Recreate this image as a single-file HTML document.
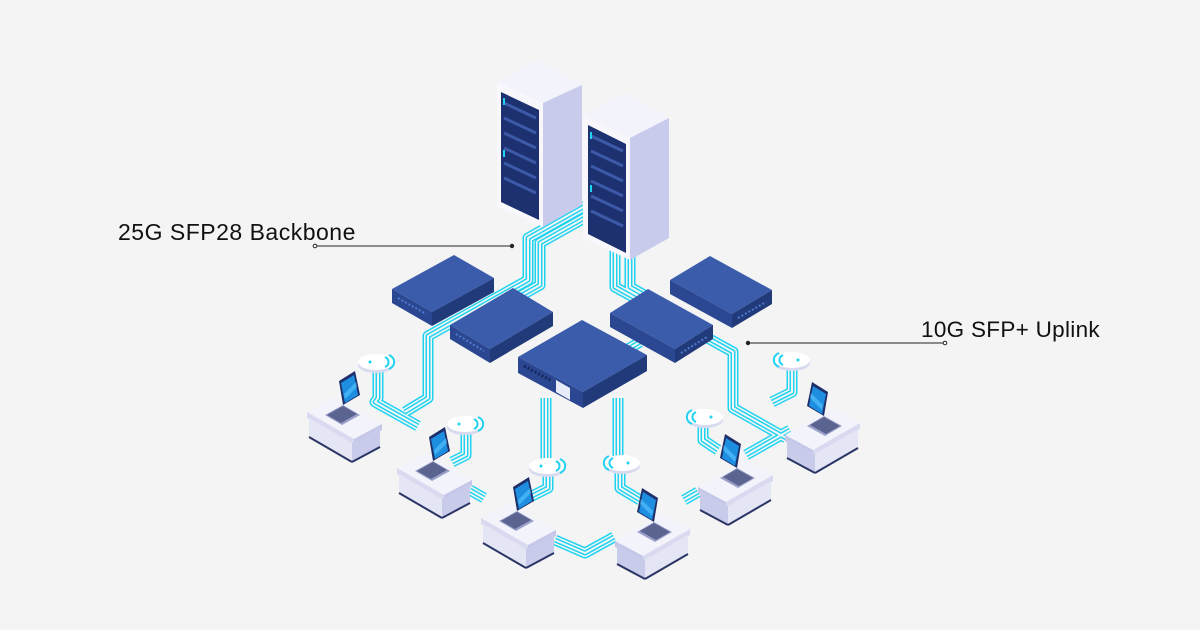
<!DOCTYPE html>
<html><head><meta charset="utf-8"><style>
html,body{margin:0;padding:0;background:#f4f4f4;}
svg{display:block}
</style></head><body>
<svg width="1200" height="630" viewBox="0 0 1200 630" xmlns="http://www.w3.org/2000/svg" font-family="Liberation Sans, sans-serif">
<rect width="1200" height="630" fill="#f4f4f4"/>
<defs>
  <g id="desk">
    <polygon points="0,0 28,-15 75,12 47,27" fill="#f3f3fb"/>
    <polygon points="0,0 47,27 47,33 0,6" fill="#d9daf0"/>
    <polygon points="47,27 75,12 75,18 47,33" fill="#c5c7e8"/>
    <polygon points="2,6 45,31 45,50 2,25" fill="#e4e5f5"/>
    <polygon points="45,31 73,16 73,35 45,50" fill="#c9cbeb"/>
    <line x1="2" y1="25" x2="45" y2="50" stroke="#2a3566" stroke-width="2"/>
    <line x1="45" y1="50" x2="73" y2="35" stroke="#2a3566" stroke-width="2"/>
    <polygon points="18,3 36,-7 53,3 35,13" fill="#9aa0c8"/>
    <polygon points="20,3 36,-6 50,2 34,11" fill="#5b6490"/>
    <polygon points="36,-7 32,-31 48,-41 53,-17" fill="#1e2f6a"/>
    <polygon points="38,-9 34,-29 47,-37 51,-17" fill="#1e8fe0"/>
    <polygon points="37,-18 49,-30 50,-25 38,-13" fill="#5cc6ff" opacity=".6"/>
  </g>
  <g id="ap">
    <ellipse cx="0" cy="3" rx="18" ry="8" fill="#d8daf0"/>
    <ellipse cx="0" cy="0" rx="18" ry="8" fill="#ffffff"/>
    <circle cx="-6" cy="0" r="1.5" fill="#1fd3f0"/>
    <path d="M9,-5 a8,6 0 0 1 0,10" fill="none" stroke="#1fd3f0" stroke-width="2"/>
    <path d="M13,-7 a10,8 0 0 1 0,14" fill="none" stroke="#1fd3f0" stroke-width="2"/>
  </g>
</defs>

<g fill="none" stroke-linejoin="round" stroke-linecap="butt">
  <g id="routes">
    <path d="M585,206 L528,238 L528,280 L428,336 L428,398 L405,412"/>
    <path d="M590,215 L540,243 L540,285 L490,313"/>
    <path d="M615,250 L615,287 L733,352 L733,408 L786,438"/>
    <path d="M630,255 L630,287 L680,315"/>
    <path d="M546,398 L546,462"/>
    <path d="M618,398 L618,460"/>
    <path d="M555,540 L585,553 L614,537"/>
    <path d="M378,372 L378,398 L375,402 L418,426"/>
    <path d="M466,434 L466,455 L452,462"/>
    <path d="M548,474 L548,488 L530,497"/>
    <path d="M620,470 L620,488 L640,500"/>
    <path d="M703,425 L703,440 L718,450"/>
    <path d="M792,368 L792,392 L772,402"/>
    <path d="M470,490 L484,498"/>
    <path d="M684,500 L698,492"/>
    <path d="M746,455 L790,430"/>
    <path d="M640,342 L628,349"/>
  </g>
  <use href="#routes" stroke="#1fd3f0" stroke-width="11"/>
  <use href="#routes" stroke="#f4f4f4" stroke-width="8"/>
  <use href="#routes" stroke="#1fd3f0" stroke-width="5"/>
  <use href="#routes" stroke="#f4f4f4" stroke-width="2"/>
</g>

<g>
  <polygon points="497,82 537,60 582,85 543,103" fill="#f2f3fb"/>
  <polygon points="497,82 543,103 543,227 497,207" fill="#f7f7fc"/>
  <polygon points="543,103 582,85 582,205 543,227" fill="#c8cbec"/>
  <polygon points="501,92 539,110 539,220 501,202" fill="#1d3170"/>
  <g stroke="#3d5aa8" stroke-width="3">
    <line x1="504" y1="103" x2="536" y2="118"/><line x1="504" y1="118" x2="536" y2="133"/>
    <line x1="504" y1="133" x2="536" y2="148"/><line x1="504" y1="148" x2="536" y2="163"/>
    <line x1="504" y1="163" x2="536" y2="178"/><line x1="504" y1="178" x2="536" y2="193"/>
  </g>
  <line x1="504" y1="98" x2="504" y2="105" stroke="#1fd3f0" stroke-width="2"/>
  <line x1="504" y1="150" x2="504" y2="157" stroke="#1fd3f0" stroke-width="2"/>

  <polygon points="583,115 625,93 669,118 630,138" fill="#f2f3fb"/>
  <polygon points="583,115 630,138 630,260 583,238" fill="#f7f7fc"/>
  <polygon points="630,138 669,118 669,238 630,260" fill="#c8cbec"/>
  <polygon points="588,125 626,144 626,253 588,234" fill="#1d3170"/>
  <g stroke="#3d5aa8" stroke-width="3">
    <line x1="591" y1="136" x2="623" y2="151"/><line x1="591" y1="151" x2="623" y2="166"/>
    <line x1="591" y1="166" x2="623" y2="181"/><line x1="591" y1="181" x2="623" y2="196"/>
    <line x1="591" y1="196" x2="623" y2="211"/><line x1="591" y1="211" x2="623" y2="226"/>
  </g>
  <line x1="591" y1="132" x2="591" y2="139" stroke="#1fd3f0" stroke-width="2"/>
  <line x1="591" y1="185" x2="591" y2="192" stroke="#1fd3f0" stroke-width="2"/>
</g>

<g>
  <polygon points="392,289 454,255 494,278 432,312" fill="#3a5cab"/>
  <polygon points="392,289 432,312 432,326 392,303" fill="#2b4792"/>
  <polygon points="432,312 494,278 494,292 432,326" fill="#213a7a"/>
  <line x1="398" y1="298" x2="426" y2="314" stroke="#4f7ad0" stroke-width="2" stroke-dasharray="2 2"/>

  <polygon points="450,325 513,288 553,312 490,349" fill="#3a5cab"/>
  <polygon points="450,325 490,349 490,363 450,339" fill="#2b4792"/>
  <polygon points="490,349 553,312 553,326 490,363" fill="#213a7a"/>
  <line x1="456" y1="334" x2="484" y2="351" stroke="#4f7ad0" stroke-width="2" stroke-dasharray="2 2"/>

  <polygon points="670,280 710,256 772,290 732,314" fill="#3a5cab"/>
  <polygon points="670,280 732,314 732,328 670,294" fill="#2b4792"/>
  <polygon points="732,314 772,290 772,304 732,328" fill="#213a7a"/>
  <line x1="738" y1="318" x2="766" y2="302" stroke="#4f7ad0" stroke-width="2" stroke-dasharray="2 2"/>

  <polygon points="610,313 648,289 713,325 675,349" fill="#3a5cab"/>
  <polygon points="610,313 675,349 675,363 610,327" fill="#2b4792"/>
  <polygon points="675,349 713,325 713,339 675,363" fill="#213a7a"/>
  <line x1="681" y1="353" x2="707" y2="337" stroke="#4f7ad0" stroke-width="2" stroke-dasharray="2 2"/>

  <polygon points="518,357 582,320 647,355 583,392" fill="#3a5cab"/>
  <polygon points="518,357 583,392 583,408 518,373" fill="#2b4792"/>
  <polygon points="583,392 647,355 647,371 583,408" fill="#213a7a"/>
  <line x1="524" y1="366" x2="552" y2="381" stroke="#16275a" stroke-width="3" stroke-dasharray="2 2"/>
  <polygon points="556,380 570,388 570,400 556,392" fill="#e8ecf8"/>
</g>

<use href="#ap" x="376" y="362"/>
<use href="#ap" x="465" y="424"/>
<use href="#ap" x="547" y="466"/>
<use href="#ap" x="622" y="463" transform="translate(1244,0) scale(-1,1)"/>
<use href="#ap" x="705" y="417" transform="translate(1410,0) scale(-1,1)"/>
<use href="#ap" x="792" y="360" transform="translate(1584,0) scale(-1,1)"/>

<use href="#desk" x="307" y="412"/>
<use href="#desk" x="397" y="468"/>
<use href="#desk" x="481" y="518"/>
<g transform="translate(1304,0) scale(-1,1)"><use href="#desk" x="614" y="529"/></g>
<g transform="translate(1470,0) scale(-1,1)"><use href="#desk" x="697" y="475"/></g>
<g transform="translate(1646,0) scale(-1,1)"><use href="#desk" x="786" y="423"/></g>

<text x="118" y="240" font-size="23" letter-spacing="0.5" fill="#111">25G SFP28 Backbone</text>
<line x1="315" y1="246" x2="512" y2="246" stroke="#222" stroke-width="1"/>
<circle cx="315" cy="246" r="1.8" fill="#fff" stroke="#222"/>
<circle cx="512" cy="246" r="2.2" fill="#222"/>
<text x="921" y="337" font-size="22.5" letter-spacing="0.3" fill="#111">10G SFP+ Uplink</text>
<line x1="748" y1="343" x2="945" y2="343" stroke="#222" stroke-width="1"/>
<circle cx="945" cy="343" r="1.8" fill="#fff" stroke="#222"/>
<circle cx="748" cy="343" r="2.2" fill="#222"/>
</svg>
</body></html>
